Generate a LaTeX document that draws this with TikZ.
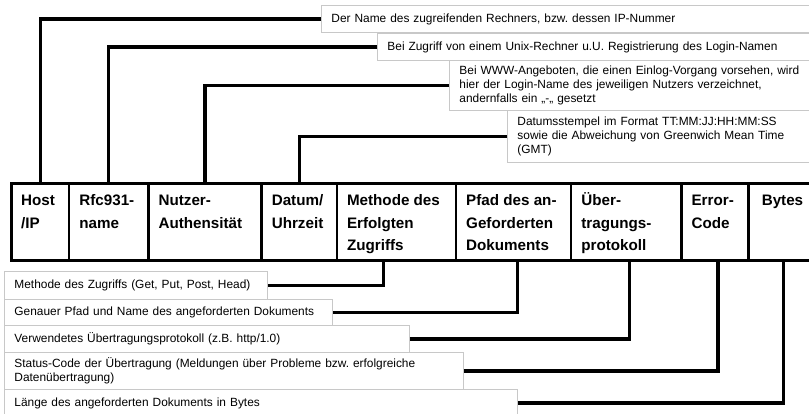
\documentclass[tikz,border=0pt]{standalone}
\usepackage{fontspec}
\setmainfont{Liberation Sans}
\usepackage{xcolor}
\usepackage{tikz}
\usetikzlibrary{positioning,calc}
\definecolor{notegray}{HTML}{C8C8C8}
\newcommand{\headfont}{\fontsize{15.2}{22.5}\selectfont\bfseries}
\newcommand{\notefont}{\fontsize{11.9}{14}\selectfont}
\frenchspacing

\tikzset{
  cell/.style={draw, line width=1.2pt, anchor=north west, inner sep=0pt, minimum height=75pt},
  head/.style={anchor=north west, inner sep=0pt, xshift=10pt, yshift=-5.75pt, align=left, font=\headfont},
  note/.style={draw=notegray, fill=white, line width=0.9pt, anchor=north west, inner xsep=10pt, inner ysep=0pt, align=left, font=\notefont},
  lead/.style={line width=3.2pt}
}

\begin{document}
\begin{tikzpicture}[x=1pt,y=-1pt]
  \useasboundingbox (0,0) rectangle (809,414);

  % header row of the log line
  \node[cell, minimum width=57] (host) at (11,184) {};
  \node[cell, minimum width=78, right=0pt of host] (rfc) {};
  \node[cell, minimum width=112, right=0pt of rfc] (user) {};
  \node[cell, minimum width=74, right=0pt of user] (date) {};
  \node[cell, minimum width=118, right=0pt of date] (meth) {};
  \node[cell, minimum width=114, right=0pt of meth] (path) {};
  \node[cell, minimum width=109, right=0pt of path] (proto) {};
  \node[cell, minimum width=66, right=0pt of proto] (err) {};
  \node[cell, minimum width=68, right=0pt of err] (bytes) {};
  \draw[line width=3pt] (host.north west) rectangle (bytes.south east);

  \node[head] (hostTxt) at (host.north west) {\strut Host\\/IP};
  \node[head] (rfcTxt) at (rfc.north west) {\strut Rfc931-\\name};
  \node[head] (userTxt) at (user.north west) {\strut Nutzer-\\Authensität};
  \node[head] (dateTxt) at (date.north west) {\strut Datum/\\Uhrzeit};
  \node[head] (methTxt) at (meth.north west) {\strut Methode des\\Erfolgten\\Zugriffs};
  \node[head] (pathTxt) at (path.north west) {\strut Pfad des an-\\Geforderten\\Dokuments};
  \node[head] (protoTxt) at (proto.north west) {\strut Über-\\tragungs-\\protokoll};
  \node[head] (errTxt) at (err.north west) {\strut Error-\\Code};
  \node[head] (bytesTxt) at ($(bytes.north west)+(3,0)$) {\strut Bytes};

  % notes above (they run off the right edge)
  \node[note, text width=480, minimum height=27] (hostNote) at (321,5) {Der Name des zugreifenden Rechners, bzw. dessen IP-Nummer};
  \node[note, text width=424, minimum height=27] (rfcNote) at (377,33) {Bei Zugriff von einem Unix-Rechner u.U. Registrierung des Login-Namen};
  \node[note, text width=380, minimum height=50] (userNote) at (449,60) {Bei WWW-Angeboten, die einen Einlog-Vorgang vorsehen, wird\\hier der Login-Name des jeweiligen Nutzers verzeichnet,\\andernfalls ein „-„ gesetzt};
  \node[note, text width=300, minimum height=52] (dateNote) at (507,110) {Datumsstempel im Format TT:MM:JJ:HH:MM:SS\\sowie die Abweichung von Greenwich Mean Time\\(GMT)};

  % notes below
  \node[note, text width=243, minimum height=28] (methNote) at (4,271) {Methode des Zugriffs (Get, Put, Post, Head)};
  \node[note, text width=308, minimum height=26] (pathNote) at (4,299) {Genauer Pfad und Name des angeforderten Dokuments};
  \node[note, text width=385, minimum height=27] (protoNote) at (4,325) {Verwendetes Übertragungsprotokoll (z.B. http/1.0)};
  \node[note, text width=439, minimum height=37] (errNote) at (4,352) {Status-Code der Übertragung (Meldungen über Probleme bzw. erfolgreiche\\Datenübertragung)};
  \node[note, text width=493, minimum height=27] (bytesNote) at (4,389) {Länge des angeforderten Dokuments in Bytes};

  \draw[lead] (hostNote.west) -| (host.north);
  \draw[lead] (rfcNote.west) -| (rfc.north);
  \draw[lead] (userNote.west) -| (user.north);
  \draw[lead] (dateNote.west) -| (date.north);
  \draw[lead] (methNote.east) -| ($(meth.south)+(-13,0)$);
  \draw[lead] (pathNote.east) -| ($(path.south)+(4,0)$);
  \draw[lead] (protoNote.east) -| ($(proto.south)+(3,0)$);
  \draw[lead] (errNote.east) -| ($(err.south)+(3,0)$);
  \draw[lead] (bytesNote.east) -| (bytes.south);
\end{tikzpicture}
\end{document}
